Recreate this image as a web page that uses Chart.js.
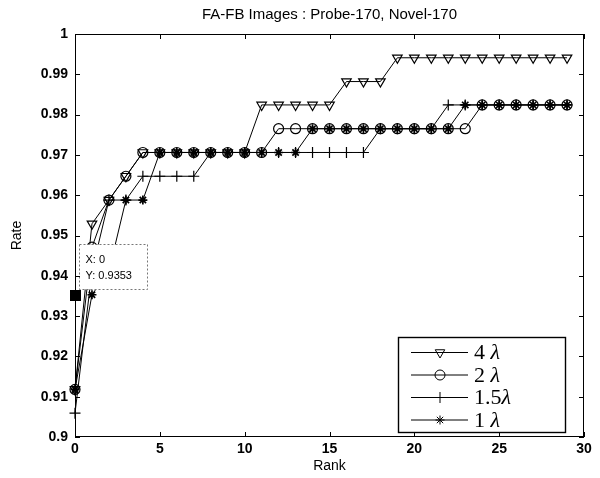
<!DOCTYPE html>
<html>
<head>
<meta charset="utf-8">
<script src="https://cdn.jsdelivr.net/npm/chart.js@4.4.1/dist/chart.umd.min.js"></script>
<style>
  html, body { margin: 0; padding: 0; background: #fff; }
  #wrap { width: 600px; height: 478px; }
</style>
</head>
<body>
<div id="wrap"><canvas id="myChart" width="600" height="478"></canvas></div>
<script>
// rank axis (x) and recognition rate for each scale
const ranks = [0, 1, 2, 3, 4, 5, 6, 7, 8, 9, 10, 11, 12, 13, 14, 15, 16, 17, 18, 19, 20, 21, 22, 23, 24, 25, 26, 27, 28, 29];
const rate4 = [0.9118, 0.9529, 0.9588, 0.9647, 0.9706, 0.9706, 0.9706, 0.9706, 0.9706, 0.9706, 0.9706, 0.9824, 0.9824, 0.9824, 0.9824, 0.9824, 0.9882, 0.9882, 0.9882, 0.9941, 0.9941, 0.9941, 0.9941, 0.9941, 0.9941, 0.9941, 0.9941, 0.9941, 0.9941, 0.9941];
const rate2 = [0.9118, 0.9471, 0.9588, 0.9647, 0.9706, 0.9706, 0.9706, 0.9706, 0.9706, 0.9706, 0.9706, 0.9706, 0.9765, 0.9765, 0.9765, 0.9765, 0.9765, 0.9765, 0.9765, 0.9765, 0.9765, 0.9765, 0.9765, 0.9765, 0.9824, 0.9824, 0.9824, 0.9824, 0.9824, 0.9824];
const rate15 = [0.9059, 0.9412, 0.9588, 0.9588, 0.9647, 0.9647, 0.9647, 0.9647, 0.9706, 0.9706, 0.9706, 0.9706, 0.9706, 0.9706, 0.9706, 0.9706, 0.9706, 0.9706, 0.9765, 0.9765, 0.9765, 0.9765, 0.9824, 0.9824, 0.9824, 0.9824, 0.9824, 0.9824, 0.9824, 0.9824];
const rate1 = [0.9118, 0.9353, 0.9412, 0.9588, 0.9588, 0.9706, 0.9706, 0.9706, 0.9706, 0.9706, 0.9706, 0.9706, 0.9706, 0.9706, 0.9765, 0.9765, 0.9765, 0.9765, 0.9765, 0.9765, 0.9765, 0.9765, 0.9765, 0.9824, 0.9824, 0.9824, 0.9824, 0.9824, 0.9824, 0.9824];

const seriesNumbers = ["4 ", "2 ", "1.5", "1 "];
const seriesNames = seriesNumbers.map(n => n + "λ");
const tipX = [0];
const tipY = [0.9353];

const xTicks = [0, 5, 10, 15, 20, 25, 30];
const yTicks = [0.9, 0.91, 0.92, 0.93, 0.94, 0.95, 0.96, 0.97, 0.98, 0.99, 1];

const FONT = "'Liberation Sans', Arial, sans-serif";
const SERIF = "'Liberation Serif', 'Times New Roman', serif";

function pairs(ys) {
    return ranks.map((r, i) => ({ x: r, y: ys[i] }));
}

// marker look per series (MATLAB style: v, o, +, *)
const markers = [
    { pointStyle: "triangle", rotation: 180, radius: 5.5, borderWidth: 1.2 },
    { pointStyle: "circle", rotation: 0, radius: 5, borderWidth: 1.2 },
    { pointStyle: "cross", rotation: 0, radius: 5.5, borderWidth: 1.2 },
    { pointStyle: "star", rotation: 0, radius: 4.5, borderWidth: 1.7 }
];

function lineSet(label, ys, m) {
    return {
        type: "line",
        label: label,
        data: pairs(ys),
        borderColor: "#000",
        borderWidth: 1,
        backgroundColor: "rgba(0,0,0,0)",
        pointStyle: m.pointStyle,
        pointRotation: m.rotation,
        pointRadius: m.radius,
        pointBorderWidth: m.borderWidth,
        pointBorderColor: "#000",
        pointBackgroundColor: "rgba(0,0,0,0)",
        tension: 0,
        clip: false
    };
}

// draws the MATLAB frame, inward ticks, title, data tip and legend
const matlabFrame = {
    id: "matlabFrame",
    afterDatasetsDraw(chart) {
        const { ctx, chartArea: a, scales } = chart;
        ctx.save();

        // data tip box
        const px = scales.x.getPixelForValue(tipX[0]);
        const py = scales.y.getPixelForValue(tipY[0]);
        const bx = Math.round(px) + 4.5, by = Math.round(py) - 50.5;
        ctx.fillStyle = "#fff";
        ctx.fillRect(bx, by, 68, 45);
        ctx.setLineDash([2, 2]);
        ctx.strokeStyle = "#777";
        ctx.lineWidth = 1;
        ctx.strokeRect(bx, by, 68, 45);
        ctx.setLineDash([]);
        ctx.fillStyle = "#000";
        ctx.font = "11px " + FONT;
        ctx.textAlign = "left";
        ctx.textBaseline = "middle";
        ctx.fillText("X: " + tipX[0], bx + 6, by + 15);
        ctx.fillText("Y: " + tipY[0], bx + 6, by + 31);
        ctx.fillRect(Math.round(px) - 5, Math.round(py) - 5, 11, 11);

        // axes box + inward ticks
        ctx.strokeStyle = "#000";
        ctx.lineWidth = 1;
        ctx.strokeRect(a.left + 0.5, a.top + 0.5, a.right - a.left - 1, a.bottom - a.top - 1);
        ctx.beginPath();
        xTicks.forEach(v => {
            const x = Math.round(scales.x.getPixelForValue(v)) + 0.5;
            ctx.moveTo(x, a.bottom); ctx.lineTo(x, a.bottom - 5);
            ctx.moveTo(x, a.top); ctx.lineTo(x, a.top + 5);
        });
        yTicks.forEach(v => {
            const y = Math.round(scales.y.getPixelForValue(v)) + 0.5;
            ctx.moveTo(a.left, y); ctx.lineTo(a.left + 5, y);
            ctx.moveTo(a.right, y); ctx.lineTo(a.right - 5, y);
        });
        ctx.stroke();

        // title
        ctx.font = "15px " + FONT;
        ctx.textAlign = "center";
        ctx.textBaseline = "middle";
        ctx.fillText("FA-FB Images : Probe-170, Novel-170", (a.left + a.right) / 2, 15);

        // legend
        const lx = 398.5, ly = 337.5, lw = 167, lh = 95;
        ctx.fillStyle = "#fff";
        ctx.fillRect(lx, ly, lw, lh);
        ctx.lineWidth = 1.4;
        ctx.strokeRect(lx, ly, lw, lh);
        ctx.lineWidth = 1;
        seriesNumbers.forEach((num, i) => {
            const y = ly + 15 + i * 22.5;
            ctx.beginPath();
            ctx.moveTo(411, y); ctx.lineTo(468, y);
            ctx.strokeStyle = "#000";
            ctx.stroke();
            ctx.fillStyle = "rgba(0,0,0,0)";
            const m = markers[i];
            Chart.helpers.drawPoint(ctx, {
                pointStyle: m.pointStyle, rotation: m.rotation,
                radius: m.radius, borderWidth: m.borderWidth
            }, 440, y);
            ctx.fillStyle = "#000";
            ctx.textAlign = "left";
            ctx.textBaseline = "middle";
            ctx.font = "22px " + SERIF;
            ctx.fillText(num, 474, y + 1);
            const w = ctx.measureText(num).width;
            ctx.font = "italic 22px " + SERIF;
            ctx.fillText("λ", 474 + w, y + 1);
        });

        ctx.restore();
    }
};

const ctx = document.getElementById("myChart");

new Chart(ctx, {
    data: {
        datasets: [
            lineSet(seriesNames[0], rate4, markers[0]),
            lineSet(seriesNames[1], rate2, markers[1]),
            lineSet(seriesNames[2], rate15, markers[2]),
            lineSet(seriesNames[3], rate1, markers[3])
        ]
    },
    options: {
        responsive: false,
        animation: false,
        events: [],
        layout: { padding: { top: 34, right: 16, left: 0, bottom: 0 } },
        plugins: {
            legend: { display: false },
            title: { display: false },
            tooltip: { enabled: false }
        },
        scales: {
            x: {
                type: "linear",
                min: 0,
                max: 30,
                afterBuildTicks: s => { s.ticks = xTicks.map(v => ({ value: v })); },
                afterFit: s => { s.height = 41; },
                grid: { display: false, drawTicks: false },
                border: { display: false },
                ticks: {
                    padding: 4,
                    color: "#000",
                    font: { family: FONT, size: 14, weight: "bold" },
                    maxRotation: 0
                },
                title: {
                    display: true,
                    text: "Rank",
                    color: "#000",
                    font: { family: FONT, size: 14 },
                    padding: { top: 0, bottom: 3 }
                }
            },
            y: {
                type: "linear",
                min: 0.9,
                max: 1,
                afterBuildTicks: s => { s.ticks = yTicks.map(v => ({ value: v })); },
                afterFit: s => { s.width = 75; },
                grid: { display: false, drawTicks: false },
                border: { display: false },
                ticks: {
                    padding: 7,
                    color: "#000",
                    font: { family: FONT, size: 14, weight: "bold" },
                    callback: v => String(Number(v.toFixed(2)))
                },
                title: {
                    display: true,
                    text: "Rate",
                    color: "#000",
                    font: { family: FONT, size: 14 },
                    padding: { top: 9, bottom: 0 }
                }
            }
        }
    },
    plugins: [matlabFrame]
});
</script>
</body>
</html>
